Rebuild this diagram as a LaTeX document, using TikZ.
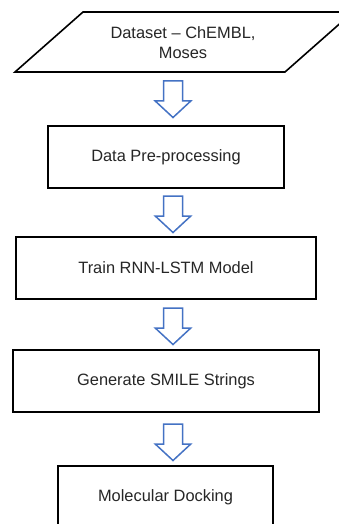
\documentclass[tikz,border=0pt]{standalone}
\usepackage{fontspec}
\setmainfont{Liberation Sans}
\begin{document}
\begin{tikzpicture}[x=1pt,y=-1pt,
  box/.style={draw=black, line width=1.8pt, fill=white, inner sep=0pt,
    text=black!85, font=\fontsize{16.4}{20}\selectfont, align=center},
  txt/.style={text=black!85, font=\fontsize{16.4}{20}\selectfont, align=center, inner sep=0pt},
  blockarrow/.pic={
    \draw[draw={rgb,255:red,68;green,114;blue,196}, line width=1.5pt, fill=white, line join=miter]
      (-9.5,0) -- (9.5,0) -- (9.5,20) -- (17.8,20) -- (0,36.5) -- (-17.8,20) -- (-9.5,20) -- cycle;
  }]
\fill[white] (0,0) rectangle (339,524);
\useasboundingbox (0,0) rectangle (339,524);
\begin{scope}
\clip (0,0) rectangle (339,524);
% parallelogram (input)
\coordinate (pbl) at (15,72);
\coordinate (pbr) at (285,72);
\coordinate (ptr) at (353,12);
\coordinate (ptl) at (83,12);
\draw[line width=1.6pt, fill=white] (pbl) -- (pbr) -- (ptr) -- (ptl) -- cycle;
\node[txt] (ds) at (183,43) {Dataset -- ChEMBL,\\Moses};

\node[box, minimum width=236, minimum height=62] (pre) at (166,157) {Data Pre-processing};
\node[box, minimum width=300, minimum height=62] (train) at (166,268) {Train RNN-LSTM Model};
\node[box, minimum width=306, minimum height=62] (gen) at (166,381) {Generate SMILE Strings};
\node[box, minimum width=215, minimum height=62] (dock) at (165.5,497) {Molecular Docking};

\path (173,81) pic {blockarrow};
\path (173,196) pic {blockarrow};
\path (173,308) pic {blockarrow};
\path (173,424) pic {blockarrow};
\end{scope}
\end{tikzpicture}
\end{document}
